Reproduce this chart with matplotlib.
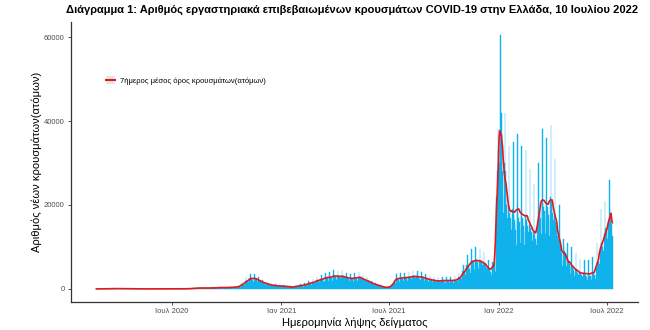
import matplotlib
matplotlib.use("Agg")
import matplotlib.pyplot as plt
from matplotlib.patches import Patch
from matplotlib.lines import Line2D
import numpy as np
import pandas as pd

plt.rcParams['font.family'] = ['Liberation Sans', 'DejaVu Sans']

# daily cases by sampling date, one row per week (Mon..Sun), first Monday 24 Feb 2020
cases_2020 = [
    [0, 0, 1, 1, 1, 0, 0], [2, 2, 4, 8, 10, 6, 4], [20, 30, 25, 40, 35, 30, 25],
    [60, 80, 55, 60, 70, 50, 45], [90, 110, 80, 75, 85, 70, 60], [85, 100, 90, 80, 75, 70, 60],
    [70, 80, 60, 55, 60, 50, 40], [45, 60, 40, 35, 40, 30, 25], [30, 40, 25, 30, 30, 20, 15],
    [15, 20, 15, 15, 10, 10, 8], [10, 15, 12, 10, 10, 8, 6], [10, 12, 10, 8, 10, 6, 5],
    [8, 12, 10, 8, 8, 6, 5], [8, 10, 8, 8, 6, 5, 4], [10, 15, 12, 10, 10, 8, 6],
    [12, 18, 12, 10, 10, 8, 6], [15, 20, 15, 12, 12, 10, 8], [20, 25, 20, 18, 15, 12, 10],
    [25, 30, 25, 20, 18, 15, 12], [20, 30, 25, 25, 20, 18, 15], [25, 35, 30, 25, 25, 20, 15],
    [30, 40, 35, 30, 30, 25, 20], [40, 55, 45, 45, 40, 35, 30], [100, 150, 120, 125, 115, 100, 85],
    [180, 260, 200, 210, 190, 170, 140], [240, 330, 230, 230, 220, 200, 160],
    [230, 320, 220, 220, 210, 190, 150], [210, 290, 200, 200, 190, 170, 140],
    [260, 360, 250, 250, 240, 210, 180], [320, 440, 300, 300, 280, 250, 210],
    [350, 480, 330, 330, 310, 280, 230], [320, 440, 300, 300, 280, 250, 210],
    [370, 510, 350, 350, 330, 300, 250], [420, 580, 400, 400, 380, 340, 280],
    [580, 800, 550, 550, 520, 470, 390], [1150, 1600, 1100, 1100, 1050, 940, 770],
    [2000, 2750, 1900, 1900, 1800, 1600, 1330], [2600, 3600, 2500, 2500, 2400, 2100, 1750],
    [2650, 3650, 2500, 2450, 2350, 2100, 1750], [2100, 2900, 2000, 2000, 1900, 1700, 1400],
    [1600, 2200, 1500, 1500, 1400, 1300, 1050], [1250, 1750, 1200, 1200, 1150, 1000, 850],
    [950, 1300, 900, 900, 850, 770, 630], [800, 1100, 750, 750, 700, 640, 530],
    [740, 1000, 700, 700, 670, 600, 490],
]
cases_2021 = [
    [680, 950, 650, 650, 620, 550, 450], [580, 800, 550, 550, 520, 470, 380],
    [470, 650, 450, 450, 430, 380, 320], [680, 950, 650, 650, 620, 550, 450],
    [840, 1160, 800, 800, 760, 680, 560], [1050, 1450, 1000, 1000, 950, 850, 700],
    [1370, 1900, 1300, 1300, 1240, 1100, 910], [1680, 2300, 1600, 1600, 1520, 1360, 1120],
    [2100, 2900, 2000, 2000, 1900, 1700, 1400], [2400, 3300, 2300, 2300, 2200, 1950, 1600],
    [2850, 3900, 2700, 2700, 2550, 2300, 1900], [2950, 4050, 2800, 2800, 2650, 2400, 1950],
    [3250, 4500, 3100, 3100, 2950, 2650, 2150], [3150, 4350, 3000, 3000, 2850, 2550, 2100],
    [3150, 4400, 3000, 3000, 2850, 2550, 2050], [2850, 3900, 2700, 2700, 2550, 2300, 1900],
    [2600, 3600, 2500, 2500, 2400, 2100, 1750], [2750, 3800, 2600, 2600, 2450, 2200, 1800],
    [2950, 4050, 2800, 2800, 2650, 2400, 1950], [2400, 3300, 2300, 2300, 2200, 1950, 1600],
    [2000, 2750, 1900, 1900, 1800, 1600, 1350], [1470, 2000, 1400, 1400, 1330, 1200, 1000],
    [1050, 1450, 1000, 1000, 950, 850, 700], [740, 1000, 700, 700, 670, 600, 490],
    [420, 580, 400, 400, 380, 340, 280], [350, 450, 400, 450, 500, 550, 500],
    [700, 1200, 1100, 1300, 1500, 1600, 1400], [2500, 3500, 2400, 2400, 2300, 2050, 1700],
    [2750, 3750, 2600, 2600, 2450, 2200, 1800], [2850, 3900, 2700, 2700, 2550, 2300, 1900],
    [2950, 4050, 2800, 2800, 2650, 2400, 1950], [3150, 4350, 3000, 3000, 2850, 2550, 2100],
    [3050, 4200, 2900, 2900, 2750, 2450, 2050], [2950, 4050, 2800, 2800, 2650, 2400, 1950],
    [2600, 3600, 2500, 2500, 2400, 2100, 1750], [2300, 3200, 2200, 2200, 2100, 1850, 1550],
    [2100, 2900, 2000, 2000, 1900, 1700, 1400], [2000, 2750, 1900, 1900, 1800, 1600, 1350],
    [2100, 2900, 2000, 2000, 1900, 1700, 1400], [2100, 2900, 2000, 2000, 1900, 1700, 1400],
    [2100, 2900, 2000, 2000, 1900, 1700, 1400], [2200, 3050, 2100, 2100, 2000, 1800, 1450],
    [2850, 3900, 2700, 2700, 2550, 2300, 1900], [4200, 5800, 4000, 4000, 3800, 3400, 2800],
    [5800, 8000, 5500, 5500, 5200, 4700, 3850], [6900, 9600, 6600, 6600, 6300, 5600, 4600],
    [7100, 9900, 6800, 6800, 6450, 5800, 4750], [6900, 9600, 6600, 6600, 6300, 5600, 4600],
    [6300, 8700, 6000, 6000, 5700, 5100, 4200], [5000, 7000, 4800, 4800, 4550, 4100, 3350],
    [5000, 6500, 5500, 6000, 6500, 4500, 4000], [11000, 22000, 28000, 38000, 33000, 22000, 30000],
]
cases_2022 = [
    [38000, 60500, 42000, 36000, 28000, 22000, 18000], [30000, 42000, 28000, 24000, 20000, 17000, 13000],
    [20000, 34000, 18000, 17000, 16000, 14000, 11000], [19000, 35000, 17500, 16500, 15500, 14000, 10500],
    [20000, 37000, 18000, 17000, 16000, 14500, 11000], [18000, 34000, 17000, 16000, 15000, 13500, 10500],
    [17500, 33000, 16500, 16000, 15000, 13500, 10500], [15500, 28500, 14500, 13500, 12500, 11500, 9000],
    [13500, 25000, 13000, 12000, 11500, 10500, 8000], [15000, 30000, 17000, 18000, 18500, 17000, 13000],
    [21500, 38000, 20500, 19500, 18500, 17000, 13000], [20500, 36000, 19500, 18500, 17500, 16500, 12500],
    [22000, 39000, 21000, 19500, 18000, 16500, 12500], [17500, 31000, 16000, 15000, 14000, 12500, 9500],
    [12000, 20000, 11000, 10500, 9500, 8500, 5500], [7000, 12000, 10000, 9000, 8500, 7500, 5500],
    [5000, 11000, 7000, 6500, 6000, 5500, 3500], [5500, 10000, 5500, 5000, 4500, 4000, 3000],
    [4500, 8500, 4500, 4000, 3800, 3400, 2500], [3800, 7200, 3700, 3400, 3200, 2900, 2200],
    [3700, 7000, 3600, 3300, 3100, 2800, 2100], [3600, 6900, 3500, 3200, 3000, 2800, 2100],
    [3800, 7500, 3800, 3500, 3300, 3100, 2300], [5000, 11000, 6500, 6500, 6500, 6000, 4500],
    [9500, 19000, 11000, 10500, 10000, 9000, 7000], [13000, 21000, 14500, 14000, 13500, 12000, 9000],
    [16000, 26000, 19000, 18000, 17000, 15500, 12500],
]
first_monday = "2020-02-24"

tick_dates = ["2020-07-01", "2021-01-01", "2021-07-01", "2022-01-01", "2022-07-01"]
tick_labels = ["Ιουλ 2020", "Ιαν 2021", "Ιουλ 2021", "Ιαν 2022", "Ιουλ 2022"]

cases = np.concatenate([np.ravel(cases_2020), np.ravel(cases_2021), np.ravel(cases_2022)])
dates = pd.date_range(first_monday, periods=len(cases), freq="D")
s = pd.Series(cases, index=dates)
s = s[s.index >= "2020-02-26"]
avg7 = s.rolling(7, center=True, min_periods=1).mean()

fig = plt.figure(figsize=(6.5, 3.3), dpi=100)
ax = fig.add_axes([0.1088, 0.085, 0.8727, 0.8485])

ax.bar(s.index, s.values, width=1.0, color="#00B4F0", edgecolor="#1CB2EA",
       linewidth=0.3, align="center")
ax.plot(avg7.index, avg7.values, color="#E0191E", lw=1.2)

ax.set_xlim(pd.Timestamp("2020-01-14"), pd.Timestamp("2022-08-22"))
ax.set_ylim(-3100, 63600)
ax.set_yticks([0, 20000, 40000, 60000])
ax.set_yticklabels(["0", "20000", "40000", "60000"])
ax.set_xticks(pd.to_datetime(tick_dates))
ax.set_xticklabels(tick_labels)

for sp in ["top", "right"]:
    ax.spines[sp].set_visible(False)
for sp in ["left", "bottom"]:
    ax.spines[sp].set_color("#333333")
    ax.spines[sp].set_linewidth(0.9)
ax.tick_params(labelsize=5.5, colors="#333333", length=2.5, width=0.6, labelcolor="#4D4D4D", pad=2)

ax.set_xlabel("Ημερομηνία λήψης δείγματος", fontsize=8, labelpad=2)
ax.set_ylabel("Αριθμός νέων κρουσμάτων(ατόμων)", fontsize=8, labelpad=1)
fig.suptitle("Διάγραμμα 1: Αριθμός εργαστηριακά επιβεβαιωμένων κρουσμάτων COVID-19 στην Ελλάδα, 10 Ιουλίου 2022",
             fontsize=8.0, fontweight="bold", x=0.542, y=0.985, va="top")

handle = (Patch(facecolor="#E6E6E6", edgecolor="none"), Line2D([], [], color="#E0191E", lw=1.5))
ax.legend([handle], ["7ήμερος μέσος όρος κρουσμάτων(ατόμων)"], loc="center left",
          bbox_to_anchor=(0.05, 0.79), frameon=False, fontsize=5.5, handlelength=1.2,
          handleheight=1.2, handletextpad=0.6)

fig.savefig("out.png", dpi=100)
